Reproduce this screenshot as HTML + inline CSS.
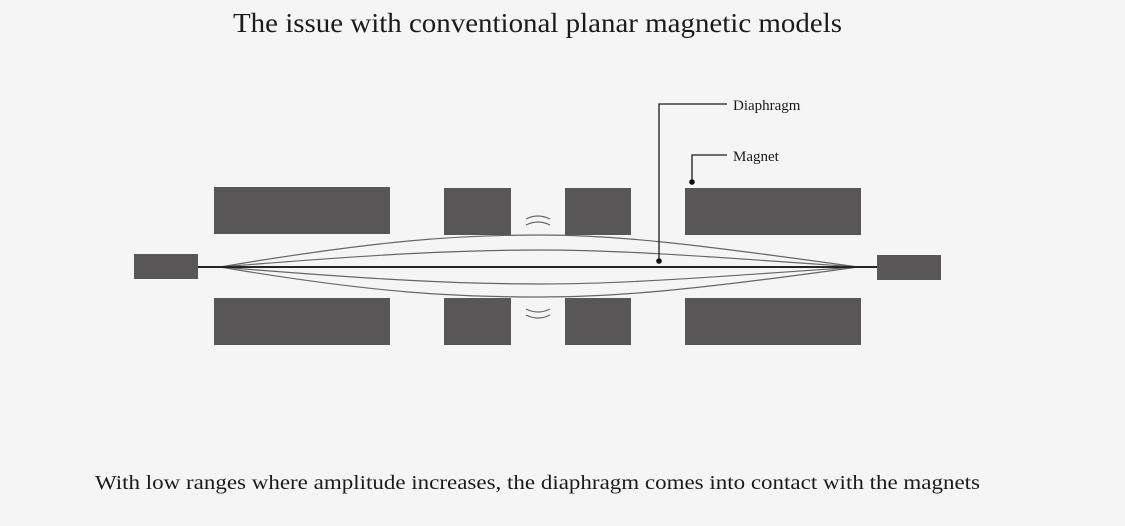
<!DOCTYPE html>
<html><head><style>
html,body{margin:0;padding:0;background:#f5f5f5;}
svg{display:block;}
text{font-family:"Liberation Serif",serif;fill:#1a1a1a;}
</style></head><body>
<svg width="1125" height="526" viewBox="0 0 1125 526" xmlns="http://www.w3.org/2000/svg">
<rect width="1125" height="526" fill="#f5f5f5"/>
<text x="233" y="32" font-size="27" textLength="609" lengthAdjust="spacingAndGlyphs">The issue with conventional planar magnetic models</text>
<g fill="#595657">
<rect x="134" y="254" width="64" height="25"/>
<rect x="877" y="255" width="64" height="25"/>
<rect x="214" y="187" width="176" height="47"/>
<rect x="214" y="298" width="176" height="47"/>
<rect x="444" y="188" width="67" height="47"/>
<rect x="444" y="298" width="67" height="47"/>
<rect x="565" y="188" width="66" height="47"/>
<rect x="565" y="298" width="66" height="47"/>
<rect x="685" y="188" width="176" height="47"/>
<rect x="685" y="298" width="176" height="47"/>
</g>
<g fill="none" stroke="#666" stroke-width="1.2">
<path d="M220 267 C380 240 460 235 540 235 C620 235 700 245 858 267"/>
<path d="M220 267 C380 254 460 250 540 250 C620 250 700 256 858 267"/>
<path d="M220 267 C380 280 460 284 540 284 C620 284 700 278 858 267"/>
<path d="M220 267 C380 294 460 297 540 297 C620 297 700 289 858 267"/>
<path d="M526 219 Q538 213 550 219"/>
<path d="M526 225 Q538 219 550 225"/>
<path d="M526 309 Q538 315 550 309"/>
<path d="M526 315 Q538 321 550 315"/>
</g>
<line x1="198" y1="267" x2="877" y2="267" stroke="#2a2222" stroke-width="2"/>
<g stroke="#1a1a1a" stroke-width="1.3" fill="none">
<polyline points="659,261 659,104 727,104"/>
<polyline points="692,182 692,155 727,155"/>
</g>
<circle cx="659" cy="261" r="2.8" fill="#111"/>
<circle cx="692" cy="182" r="2.8" fill="#111"/>
<text x="733" y="110" font-size="15">Diaphragm</text>
<text x="733" y="161" font-size="15">Magnet</text>
<text x="95" y="489" font-size="20" textLength="885" lengthAdjust="spacingAndGlyphs">With low ranges where amplitude increases, the diaphragm comes into contact with the magnets</text>
</svg>
</body></html>
